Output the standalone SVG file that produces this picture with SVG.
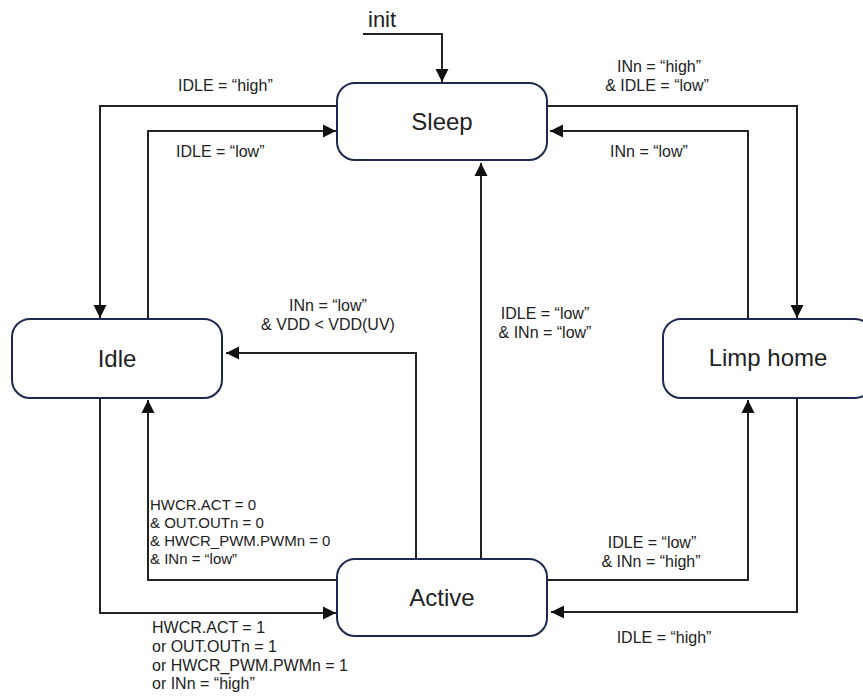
<svg xmlns="http://www.w3.org/2000/svg" width="863" height="698" viewBox="0 0 863 698">
<defs>
<style>
.node rect{fill:#fff;stroke:#1c2850;stroke-width:2}
.node text{font-family:"Liberation Sans",Arial,sans-serif;font-size:24px;fill:#222;text-anchor:middle}
.conn path{fill:none;stroke:#222;stroke-width:2}
.lbl{font-family:"Liberation Sans",Arial,sans-serif;font-size:16px;fill:#222}
.c{text-anchor:middle}
.s{font-size:15px}
</style>
<marker id="arr" markerUnits="userSpaceOnUse" markerWidth="14" markerHeight="14" viewBox="0 0 14 14" refX="13" refY="7" orient="auto">
<path d="M0,0.5 L13,7 L0,13.5 Z" fill="#111"/>
</marker>
</defs>
<rect width="863" height="698" fill="#fff"/>
<g id="connectors" class="conn">
<path d="M363,34 H442 V82" marker-end="url(#arr)"/>
<path d="M337,106 H100 V318" marker-end="url(#arr)"/>
<path d="M148,319 V131 H336" marker-end="url(#arr)"/>
<path d="M547,106 H797 V318" marker-end="url(#arr)"/>
<path d="M748,319 V131 H550" marker-end="url(#arr)"/>
<path d="M481,559 V163" marker-end="url(#arr)"/>
<path d="M416,559 V353 H226" marker-end="url(#arr)"/>
<path d="M337,580 H148 V400" marker-end="url(#arr)"/>
<path d="M100,398 V613 H336" marker-end="url(#arr)"/>
<path d="M547,580 H748 V400" marker-end="url(#arr)"/>
<path d="M797,398 V612 H551" marker-end="url(#arr)"/>
</g>
<g id="labels" class="lbl">
<text x="368" y="27" style="font-size:22px">init</text>
<text x="178" y="91">IDLE = “high”</text>
<text x="176" y="157">IDLE = “low”</text>
<text class="c" x="659" y="72">INn = “high”</text>
<text class="c" x="657" y="91">&amp; IDLE = “low”</text>
<text class="c" x="649" y="157">INn = “low”</text>
<text class="c" x="328" y="311">INn = “low”</text>
<text class="c" x="328" y="330">&amp; VDD &lt; VDD(UV)</text>
<text class="c" x="545" y="319">IDLE = “low”</text>
<text class="c" x="545" y="338">&amp; INn = “low”</text>
<text class="s" x="150" y="510">HWCR.ACT = 0</text>
<text class="s" x="150" y="528">&amp; OUT.OUTn = 0</text>
<text class="s" x="150" y="546">&amp; HWCR_PWM.PWMn = 0</text>
<text class="s" x="150" y="564">&amp; INn = “low”</text>
<text x="152" y="633">HWCR.ACT = 1</text>
<text x="152" y="652">or OUT.OUTn = 1</text>
<text x="152" y="671">or HWCR_PWM.PWMn = 1</text>
<text x="152" y="689">or INn = “high”</text>
<text class="c" x="652" y="548">IDLE = “low”</text>
<text class="c" x="651" y="567">&amp; INn = “high”</text>
<text class="c" x="664" y="643">IDLE = “high”</text>
</g>
<g id="node-sleep" class="node">
<rect x="337" y="83" width="210" height="77" rx="18"/>
<text x="442" y="130">Sleep</text>
</g>
<g id="node-idle" class="node">
<rect x="12" y="319" width="210" height="79" rx="18"/>
<text x="117" y="367">Idle</text>
</g>
<g id="node-limp" class="node">
<rect x="663" y="319" width="210" height="79" rx="18"/>
<text x="768" y="366">Limp home</text>
</g>
<g id="node-active" class="node">
<rect x="337" y="559" width="210" height="77" rx="18"/>
<text x="442" y="606">Active</text>
</g>
</svg>
